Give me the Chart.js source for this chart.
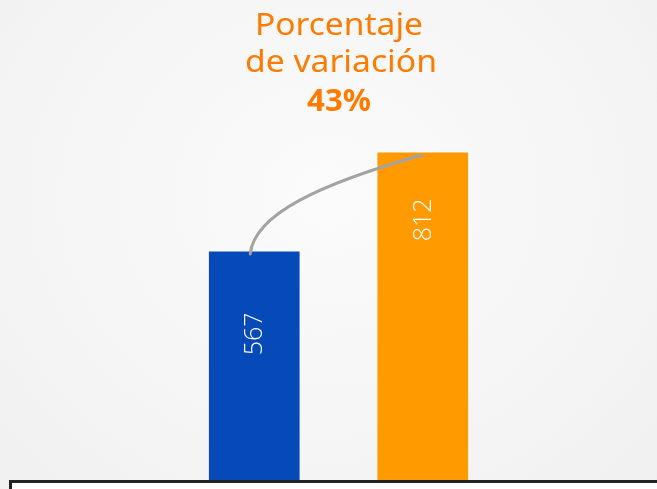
<!DOCTYPE html>
<html>
<head>
<meta charset="utf-8">
<script src="https://cdn.jsdelivr.net/npm/chart.js@4.4.0/dist/chart.umd.min.js"></script>
<style>
  html, body { margin: 0; padding: 0; }
  body { width: 657px; height: 489px; overflow: hidden; position: relative;
         background: radial-gradient(ellipse at 50% 40%, #fbfbfb 0%, #f4f4f4 70%, #f0f0f0 100%); }
  #wrap { position: absolute; left: 0; top: 0; width: 657px; height: 489px; }
  #box { position: absolute; left: 9px; top: 480px; width: 700px; height: 60px;
         border: 3px solid #222; background: #fff; box-sizing: border-box; }
</style>
</head>
<body>
<div id="wrap"><canvas id="chart"></canvas></div>
<div id="box"></div>
<script>
var categorias = ["Antes", "Después"];
var valores = [567, 812];
var colores = ["#0649b8", "#ff9a00"];
var titulo = ["Porcentaje", "de variación"];
var variacion = "43%";

// texto estirado al ancho del original
function textoAncho(ctx, txt, cx, y, ancho) {
  var w = ctx.measureText(txt).width;
  ctx.save();
  ctx.translate(cx, y);
  ctx.scale(ancho / w, 1);
  ctx.fillText(txt, 0, 0);
  ctx.restore();
}

var textoPlugin = {
  id: "textos",
  afterDatasetsDraw: function (chart) {
    var ctx = chart.ctx;
    var bars = chart.getDatasetMeta(0).data;

    // etiquetas dentro de las barras (giradas)
    var offsets = [82, 67];
    ctx.save();
    ctx.fillStyle = "#ffffff";
    ctx.font = "300 25px 'Open Sans', sans-serif";
    ctx.textAlign = "center";
    ctx.textBaseline = "middle";
    bars.forEach(function (bar, i) {
      ctx.save();
      ctx.translate(bar.x + 1, bar.y + offsets[i]);
      ctx.rotate(-Math.PI / 2);
      ctx.fillText(String(valores[i]), 0, 0);
      ctx.restore();
    });
    ctx.restore();

    // curva entre las barras
    var a = bars[0], b = bars[1];
    var x0 = a.x - 4, y0 = a.y + 2;
    var x3 = b.x - 1, y3 = b.y + 2;
    ctx.save();
    ctx.strokeStyle = "#a3a3a3";
    ctx.lineWidth = 3;
    ctx.lineCap = "round";
    ctx.beginPath();
    ctx.moveTo(x0, y0);
    ctx.bezierCurveTo(x0 + 4, y0 - 40, x0 + 70, y0 - 70, x3, y3);
    ctx.stroke();
    ctx.restore();

    // título
    ctx.save();
    ctx.fillStyle = "#ff7b00";
    ctx.textAlign = "center";
    ctx.textBaseline = "alphabetic";
    ctx.font = "400 31px 'Noto Sans', sans-serif";
    textoAncho(ctx, titulo[0], 339, 35, 168);
    textoAncho(ctx, titulo[1], 341, 72, 192);
    ctx.font = "700 31px 'Noto Sans', sans-serif";
    textoAncho(ctx, variacion, 339, 111, 64);
    ctx.restore();
  }
};

new Chart(document.getElementById("chart"), {
  type: "bar",
  data: {
    labels: categorias,
    datasets: [
      {
        data: valores,
        backgroundColor: colores,
        borderWidth: 0,
        barThickness: 90,
      },
    ],
  },
  options: {
    responsive: true,
    maintainAspectRatio: false,
    animation: false,
    layout: { padding: { left: 170, right: 150, top: 77, bottom: 8 } },
    plugins: { legend: { display: false }, tooltip: { enabled: false } },
    scales: {
      x: { display: false, offset: true },
      y: { display: false, min: 0, max: 1000 },
    },
  },
  plugins: [textoPlugin],
});
</script>
</body>
</html>
